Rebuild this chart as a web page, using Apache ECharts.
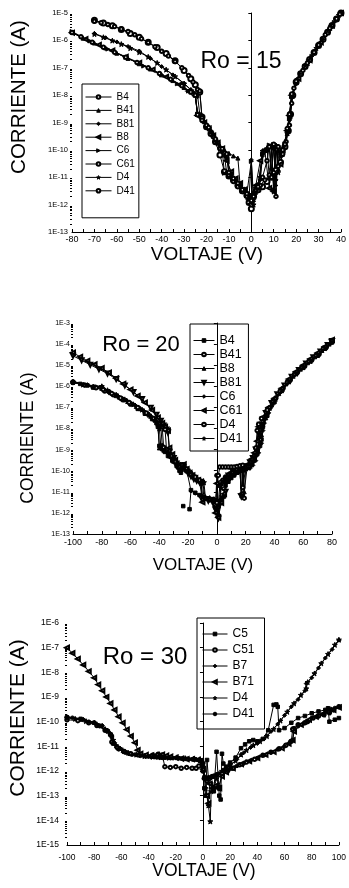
<!DOCTYPE html>
<html>
<head>
<meta charset="utf-8">
<script src="https://cdn.jsdelivr.net/npm/echarts@6/dist/echarts.min.js"></script>
<style>
html, body { margin: 0; padding: 0; background: #fff; }
#chart { width: 349px; height: 888px; }
</style>
</head>
<body>
<div id="chart"></div>
<script>
// Ro = 15  [voltage (V), current (A)]
var r15B4 = [[-70,5.4e-6],[-66,4.3e-6],[-62,3.4e-6],[-58,2.5e-6],[-54,1.8e-6],[-50,1.3e-6],[-46,8.5e-7],[-42,5.5e-7],[-38,3.3e-7],[-34,1.8e-7],[-30,8e-8],[-27,4e-8],[-25,2.4e-8],[-23,1.3e-8],[-22,1.6e-9],[-20,7e-10],[-18,4e-10],[-16,2e-10],[-14,6.5e-11],[-12,1.6e-11],[-10,1.1e-11],[-8,8e-12],[-6,5e-12],[-4,3.2e-12],[-2,2.2e-12],[-1,1.2e-12],[0,7e-13],[1,2e-12],[3,3.5e-12],[5,4.5e-12],[7,7e-12],[9,1e-11],[11,1.8e-11],[13,3.5e-11],[15,1.3e-10],[16.5,5e-10],[17.5,2e-9],[18.5,1e-8],[20,3e-8],[22,6e-8],[24,1.1e-7],[26,2e-7],[28,3.6e-7],[30,6.5e-7],[32,1.1e-6],[34,2e-6],[36,3.5e-6],[38,6e-6],[40,1e-5]];
var r15B41 = [[-80,2e-6],[-75,1.2e-6],[-70,8e-7],[-65,5.3e-7],[-60,3.4e-7],[-55,2.2e-7],[-50,1.4e-7],[-45,9e-8],[-40,5.5e-8],[-35,3.4e-8],[-30,1.9e-8],[-27,1.3e-8],[-25,1e-8],[-24,2e-9],[-22,1.3e-9],[-20,8e-10],[-18,4.5e-10],[-16,2.4e-10],[-14,1.4e-10],[-12,1e-10],[-10,7.5e-11],[-8,6e-11],[-6,5e-11],[-5,5e-12],[-3,3e-12],[-1,2.5e-12],[0,1.2e-12],[1,3e-12],[3,4e-12],[5,8e-11],[6,1e-10],[7,1.2e-10],[8,1e-11],[9,1.3e-10],[10,4e-12],[11,1.5e-10],[12,2e-11],[13,8e-11],[14,1.2e-10],[15,2e-10],[16,4e-10],[17,1.5e-9],[18,9e-9],[20,2.8e-8],[25,1.4e-7],[30,6.5e-7],[35,2.7e-6],[40,1e-5]];
var r15B81 = [[-70,1.8e-6],[-65,1.25e-6],[-60,8.8e-7],[-55,6e-7],[-50,4.1e-7],[-45,2.2e-7],[-40,1.1e-7],[-35,5.5e-8],[-30,2.7e-8],[-27,1.6e-8],[-25,1.1e-8],[-24,2.2e-9],[-22,1.4e-9],[-20,8.5e-10],[-18,5e-10],[-16,2.6e-10],[-14,1.2e-10],[-12,6e-11],[-11,1.5e-11],[-9,1e-11],[-7,7e-12],[-5,5e-12],[-3,3.5e-12],[-2,2.8e-12],[-1,2e-12],[0,4.3e-11],[1,1.5e-12],[2,2.5e-12],[4,8e-12],[5,6e-11],[7,1e-10],[8,1.4e-10],[9,2e-11],[10,1.5e-10],[11,8e-12],[12,1.2e-10],[13,6e-11],[15,1.6e-10],[17,1.2e-9],[18,8e-9],[21,4.2e-8],[26,1.9e-7],[31,8.5e-7],[36,3.5e-6],[40,1e-5]];
var r15B8 = [[-80,1.9e-6],[-74,1.1e-6],[-68,6.8e-7],[-62,4.2e-7],[-56,2.5e-7],[-50,1.5e-7],[-44,8.5e-8],[-38,4.6e-8],[-32,2.4e-8],[-28,1.4e-8],[-25,9.5e-9],[-24,1.8e-9],[-21,1e-9],[-19,6e-10],[-17,3.3e-10],[-15,1.8e-10],[-13,1.1e-10],[-11,4e-11],[-9,1.6e-11],[-7,9e-12],[-5,6e-12],[-3,3.5e-12],[-1,1.5e-12],[0,1.1e-12],[2,5e-12],[4,4e-11],[6,1e-10],[8,4e-12],[9,1.2e-10],[10,3e-12],[11,1e-10],[13,3e-11],[14,1e-10],[16,5e-10],[17,1.8e-9],[18,1e-8],[21,4e-8],[26,1.9e-7],[31,8.5e-7],[36,3.5e-6],[40,1e-5]];
var r15C6 = [[-80,2.1e-6],[-72,9.5e-7],[-64,4.8e-7],[-56,2.4e-7],[-48,1.15e-7],[-40,5.5e-8],[-33,2.6e-8],[-28,1.4e-8],[-25,1e-8],[-24,2e-9],[-20,7.5e-10],[-16,2.2e-10],[-13,1e-10],[-12,1.4e-11],[-10,1.1e-11],[-8,7.5e-12],[-6,5e-12],[-4,3.3e-12],[-2,2.6e-12],[0,3.8e-11],[1,1.3e-12],[3,5e-12],[5,7e-11],[7,9e-11],[8,1.5e-10],[10,1.2e-10],[11,5e-12],[12,1.4e-10],[14,6e-11],[15,1.5e-10],[17,1.4e-9],[18,9e-9],[22,6e-8],[27,2.6e-7],[32,1.1e-6],[37,4.5e-6]];
var r15C61 = [[-70,5e-6],[-67,4.4e-6],[-64,3.8e-6],[-61,3.2e-6],[-58,2.6e-6],[-55,2.1e-6],[-52,1.6e-6],[-49,1.15e-6],[-46,8.3e-7],[-43,5.8e-7],[-40,4e-7],[-37,2.7e-7],[-34,1.7e-7],[-31,1e-7],[-28,5.2e-8],[-26,3e-8],[-24,1.6e-8],[-23,1.4e-8],[-22,1.5e-9],[-20,8e-10],[-17,3e-10],[-14,1.1e-10],[-11,6e-11],[-10,1.2e-11],[-8,7e-12],[-6,4.5e-12],[-4,3e-12],[-2,2e-12],[0,1e-12],[2,3.5e-12],[4,5e-12],[6,8e-12],[8,1.2e-11],[10,1.5e-11],[12,2.5e-11],[14,7e-11],[15.5,2e-10],[17,8e-10],[18,5e-9],[19,1.8e-8],[23,8e-8],[28,3.7e-7],[33,1.6e-6],[38,6.2e-6]];
var r15D4 = [[-70,1.7e-6],[-66,1.3e-6],[-62,9.8e-7],[-58,7.3e-7],[-54,5.2e-7],[-50,3.7e-7],[-46,2.5e-7],[-42,1.5e-7],[-38,8.5e-8],[-34,4.8e-8],[-30,2.6e-8],[-26,1.3e-8],[-24,1e-8],[-23,2e-9],[-21,1.1e-9],[-19,6e-10],[-17,3.5e-10],[-15,1.7e-10],[-13,1e-10],[-11,5e-11],[-9,1.3e-11],[-7,8e-12],[-5,5.5e-12],[-3,3.6e-12],[-1,2.4e-12],[0,1.5e-12],[1,1e-12],[2,4e-12],[4,1e-11],[5,9e-11],[7,1.1e-10],[9,1.5e-10],[10,3e-12],[11,1.3e-10],[12,1.5e-11],[13,9e-11],[15,1.8e-10],[16,4e-10],[17,1.6e-9],[18,1e-8],[24,1.2e-7],[29,5.2e-7],[34,2.2e-6],[39,8.3e-6]];
var r15D41 = [[-80,1.95e-6],[-76,1.35e-6],[-71,8.5e-7],[-66,5.6e-7],[-61,3.7e-7],[-56,2.4e-7],[-51,1.55e-7],[-46,1e-7],[-41,6.2e-8],[-36,3.8e-8],[-31,2.2e-8],[-27,1.3e-8],[-25,1e-8],[-24,1.9e-9],[-22,1.2e-9],[-19,6.5e-10],[-16,2.5e-10],[-13,1.1e-10],[-11,7e-11],[-10,1.5e-11],[-8,9e-12],[-6,6e-12],[-4,3.5e-12],[-2,2.5e-12],[0,1.4e-12],[1,2e-12],[3,4.5e-12],[5,1e-11],[7,4e-11],[8,1.3e-10],[9,1e-11],[10,1.6e-10],[11,2e-12],[12,1.3e-10],[14,1e-10],[15,1.6e-10],[16,6e-10],[17,2e-9],[18,1.1e-8],[20,3.2e-8],[25,1.5e-7],[30,6.8e-7],[35,2.8e-6],[39.5,9e-6]];

// Ro = 20
var r20B4 = [[-100,1.6e-6],[-95,1.3e-6],[-90,1.1e-6],[-85,9.5e-7],[-80,9e-7],[-75,5.5e-7],[-70,3.5e-7],[-65,2.2e-7],[-60,1.4e-7],[-55,8.5e-8],[-50,5e-8],[-45,2.8e-8],[-42,1.8e-8],[-41,1.2e-8],[-40,1.5e-9],[-37,9e-10],[-34,5e-10],[-31,3e-10],[-28,1.7e-10],[-26,1e-10],[-25,8e-11],[-24,null],[-23.4,2.1e-12],[-21,null],[-19,1.5e-12],[-18,1.2e-11],[-15,9e-12],[-12,7e-12],[-9,5.5e-12],[-6,4.8e-12],[-3,4.5e-12],[-1,2e-12],[0,1.2e-12],[1,3e-12],[3,4e-12],[5,6e-12],[6,2e-11],[8,3e-11],[10,4.5e-11],[12,6e-11],[14,8e-11],[16,1e-10],[18,1.1e-10],[20,1.2e-10],[22,1.4e-10],[24,2e-10],[26,3.5e-10],[28,6e-10],[30,1.5e-9],[31,3e-9],[32,1.2e-8],[35,4e-8],[40,1.8e-7],[45,6e-7],[50,1.6e-6],[55,3.8e-6],[60,7.5e-6],[65,1.5e-5],[70,2.8e-5],[75,6e-5],[80,1.2e-4]];
var r20B41 = [[-100,1.5e-6],[-92,1.15e-6],[-84,8.5e-7],[-78,6e-7],[-72,4e-7],[-66,2.5e-7],[-60,1.5e-7],[-54,8.8e-8],[-48,4.8e-8],[-44,2.8e-8],[-41,1.7e-8],[-38,1.2e-8],[-37,1.3e-9],[-35,9e-10],[-32,4.5e-10],[-29,2.5e-10],[-27,1.5e-10],[-24,1.7e-10],[-21,1e-10],[-18,6.5e-11],[-15,4.5e-11],[-12,3.2e-11],[-10,2.7e-11],[-9,5e-12],[-6,4.5e-12],[-3,4e-12],[-1,1.8e-12],[0,6e-11],[1,2e-12],[2,2e-11],[4,3.5e-11],[6,5e-11],[9,7e-11],[12,9e-11],[15,1.2e-10],[17,1.5e-10],[18,1.6e-11],[20,1.3e-10],[22,1.5e-10],[24,2.2e-10],[26,4e-10],[28,9e-10],[30,3e-9],[31,1.4e-8],[33,3e-8],[37,1e-7],[41,2.8e-7],[46,8e-7],[51,2e-6],[56,4.6e-6],[61,9e-6],[66,1.8e-5],[71,3.3e-5],[76,7e-5],[80,1.3e-4]];
var r20B8 = [[-100,1.7e-6],[-90,1.2e-6],[-80,8e-7],[-74,5e-7],[-68,3.1e-7],[-62,1.9e-7],[-56,1.1e-7],[-50,6e-8],[-46,3.8e-8],[-43,2.5e-8],[-41,1.6e-8],[-40,1.2e-9],[-38,1.1e-9],[-36,8e-10],[-33,5e-10],[-30,2.8e-10],[-27,1.5e-10],[-25,1.1e-10],[-22,1.4e-10],[-19,9e-11],[-16,5.5e-11],[-13,3.8e-11],[-11,3e-11],[-10,6e-12],[-7,5e-12],[-4,4.2e-12],[-2,3.8e-12],[0,1.5e-12],[1,1e-12],[3,2.5e-11],[5,4e-11],[8,6e-11],[11,8.5e-11],[14,1.1e-10],[16,1.3e-10],[18,1.4e-10],[19,1e-11],[21,1.4e-10],[23,1.8e-10],[25,3e-10],[27,6e-10],[29,1.5e-9],[31,5e-9],[32,1.5e-8],[34,3.2e-8],[38,1.3e-7],[43,4.5e-7],[48,1.3e-6],[53,3e-6],[58,6.5e-6],[63,1.3e-5],[68,2.5e-5],[73,5e-5],[78,1e-4]];
var r20B81 = [[-100,2.8e-5],[-94,1.7e-5],[-88,1.05e-5],[-82,6.5e-6],[-76,4e-6],[-70,2.2e-6],[-64,1.1e-6],[-58,5.4e-7],[-52,2.5e-7],[-46,9.5e-8],[-42,4.5e-8],[-39,2.3e-8],[-37,1.4e-8],[-35,9e-9],[-34,6.5e-9],[-33,8e-10],[-30,4e-10],[-28,2.2e-10],[-26,1.4e-10],[-24,1.8e-10],[-22,1.1e-10],[-20,7.5e-11],[-18,5.5e-11],[-16,4e-11],[-14,3.3e-11],[-12,2.8e-11],[-11,2.5e-11],[-10,4e-12],[-6,3.8e-12],[-3,3.3e-12],[-1,1.5e-12],[1,5.5e-13],[2,2.5e-12],[4,5e-12],[6,1e-11],[8,6e-11],[11,9e-11],[14,1.2e-10],[16,1.4e-10],[17,6e-12],[19,1.2e-10],[21,1.6e-10],[23,2.5e-10],[25,4e-10],[27,1e-9],[29,6e-9],[30,1.5e-8],[34,5.5e-8],[38,1.6e-7],[42,4.2e-7],[47,1.1e-6],[52,2.8e-6],[57,6e-6],[62,1.2e-5],[67,2.4e-5],[72,4.5e-5],[77,9e-5],[80,1.4e-4]];
var r20C6 = [[-100,1.6e-6],[-90,1.15e-6],[-80,1e-6],[-75,6e-7],[-69,3.6e-7],[-63,2.2e-7],[-57,1.3e-7],[-51,7e-8],[-46,4e-8],[-42,2.2e-8],[-39,1.4e-8],[-38,1.6e-9],[-35,1e-9],[-32,5.5e-10],[-29,3e-10],[-26,1.6e-10],[-24,1.5e-10],[-21,1.1e-10],[-18,1.1e-11],[-15,8.5e-12],[-12,6.5e-12],[-9,5.5e-12],[-6,5e-12],[-3,4.5e-12],[-1,3e-12],[0,2e-12],[1,2.5e-12],[2,4e-12],[4,5.5e-12],[5,7e-12],[6,2.5e-11],[9,4e-11],[12,6e-11],[15,8e-11],[18,1e-10],[21,1.2e-10],[23,1.3e-10],[25,1.8e-10],[27,3e-10],[29,7e-10],[31,2e-9],[32,8e-9],[33,1.8e-8],[36,5.5e-8],[39,1.4e-7],[44,5e-7],[49,1.4e-6],[54,3.4e-6],[59,7e-6],[64,1.4e-5],[69,2.6e-5],[74,5.5e-5],[79,1.1e-4]];
var r20C61 = [[-100,3.9e-5],[-95,2.5e-5],[-90,1.6e-5],[-85,1.1e-5],[-80,7.2e-6],[-75,4.4e-6],[-70,2.4e-6],[-65,1.3e-6],[-60,7e-7],[-55,3.5e-7],[-50,1.7e-7],[-45,7.5e-8],[-41,3.3e-8],[-38,1.8e-8],[-36,1.2e-8],[-34,8e-9],[-33,1.2e-9],[-31,6e-10],[-29,3.2e-10],[-27,1.8e-10],[-25,1.3e-10],[-23,2e-10],[-21,1.2e-10],[-19,8e-11],[-17,6e-11],[-15,4.5e-11],[-13,3.6e-11],[-11,3e-11],[-10,3.2e-12],[-7,4.5e-12],[-4,4e-12],[-2,3.5e-12],[-1,1e-12],[0,2.5e-11],[1,6e-13],[3,3e-12],[5,8e-12],[7,5e-11],[10,8e-11],[13,1.1e-10],[16,1.3e-10],[17,8e-12],[18,1.5e-10],[20,1.8e-10],[22,2e-10],[24,3.5e-10],[26,7e-10],[28,2.5e-9],[29,1.2e-8],[32,3.5e-8],[36,1e-7],[40,2.7e-7],[45,8e-7],[50,2.2e-6],[55,5e-6],[60,1e-5],[65,2e-5],[70,3.8e-5],[75,7.5e-5],[80,1.6e-4]];
var r20D4 = [[-100,1.55e-6],[-86,9e-7],[-79,7e-7],[-73,4.5e-7],[-67,2.8e-7],[-61,1.7e-7],[-55,1e-7],[-49,5.5e-8],[-44,3e-8],[-40,1.8e-8],[-36,9e-9],[-35,1e-9],[-32,5e-10],[-29,2.7e-10],[-26,1.5e-10],[-24,1.9e-10],[-21,1.2e-10],[-18,7e-11],[-15,5e-11],[-12,3.5e-11],[-10,3e-11],[-8,5e-12],[-5,4.5e-12],[-2,4e-12],[-1,2.5e-12],[0,3e-12],[1,6e-11],[2,1.5e-10],[4,1.5e-10],[6,1.5e-10],[8,1.5e-10],[10,1.5e-10],[12,1.5e-10],[14,1.6e-10],[16,1.7e-10],[18,1.8e-10],[19,5e-12],[20,1.5e-10],[22,1.6e-10],[24,2.5e-10],[26,5e-10],[27,1.2e-9],[28,8e-9],[29,1.6e-8],[31,3e-8],[35,7.5e-8],[39,2e-7],[44,6e-7],[49,1.6e-6],[54,3.8e-6],[59,8e-6],[64,1.6e-5],[69,3e-5],[74,6.3e-5],[80,1.5e-4]];
var r20D41 = [[-100,1.6e-6],[-93,1.2e-6],[-86,9.5e-7],[-80,1e-6],[-76,6.5e-7],[-70,4e-7],[-64,2.4e-7],[-58,1.4e-7],[-52,7.8e-8],[-47,4.4e-8],[-43,2.6e-8],[-41,1.8e-8],[-40,1e-8],[-39,1.6e-9],[-36,1e-9],[-33,6e-10],[-30,3.5e-10],[-27,1.8e-10],[-25,1.2e-10],[-23,1.8e-10],[-20,1.1e-10],[-17,7e-11],[-14,4e-11],[-11,3e-11],[-9,2.8e-11],[-8,5.5e-12],[-5,5e-12],[-2,4.4e-12],[0,1.5e-12],[1,8e-13],[3,1.5e-11],[5,3e-11],[7,4.5e-11],[10,6.5e-11],[13,9e-11],[16,1.1e-10],[17,7e-12],[18,1.2e-10],[20,1.3e-10],[22,1.4e-10],[24,2.2e-10],[26,4.5e-10],[28,1e-9],[30,4e-9],[32,1.6e-8],[35,5e-8],[40,2e-7],[45,6.5e-7],[50,1.7e-6],[55,4e-6],[60,8e-6],[65,1.6e-5],[70,3e-5],[75,6.5e-5],[80,1.4e-4]];

// Ro = 30
var r30C5 = [[-100,1.5e-10],[-90,1.3e-10],[-80,9e-11],[-75,6.8e-11],[-70,4e-11],[-67,2.5e-11],[-66,1.3e-11],[-62,8e-12],[-58,6e-12],[-54,5e-12],[-48,4.5e-12],[-42,4e-12],[-36,3.8e-12],[-30,3.5e-12],[-24,3.4e-12],[-18,3.3e-12],[-12,3.1e-12],[-6,3e-12],[-2,2.6e-12],[0,2e-12],[1,2e-13],[2,1e-13],[3,2.8e-12],[4,5e-13],[6,3e-13],[8,1.5e-13],[10,6e-12],[12,1e-13],[13,7e-14],[14,5e-12],[15,2e-12],[17,1.5e-12],[20,2.2e-12],[24,3.5e-12],[28,8.4e-12],[31,1.2e-11],[34,1.6e-11],[37,1.8e-11],[40,1.6e-11],[44,2e-11],[48,4.5e-11],[52,4.8e-10],[54,5e-10],[55,4e-10],[56,4.5e-11],[60,5.5e-11],[65,9e-11],[70,1.4e-10],[75,1.7e-10],[80,2.2e-10],[85,2.6e-10],[90,3e-10],[92,3.5e-10],[93,1e-10],[97,1.2e-10],[100,1.4e-10]];
var r30C51 = [[-100,1.2e-10],[-92,1.1e-10],[-84,9e-11],[-78,7e-11],[-72,4.5e-11],[-68,3e-11],[-67,1.5e-11],[-63,9e-12],[-58,6.2e-12],[-53,5e-12],[-47,4.5e-12],[-42,4.2e-12],[-37,4.4e-12],[-33,4.8e-12],[-30,4.5e-12],[-28,1.5e-12],[-24,1.4e-12],[-20,1.5e-12],[-16,1.3e-12],[-12,1.4e-12],[-8,1.3e-12],[-5,1.3e-12],[-3,1.6e-12],[-1,2.4e-12],[0,1e-12],[1,5e-13],[3,4e-13],[5,5e-13],[7,6e-13],[10,7e-13],[14,8e-13],[18,1e-12],[22,1.3e-12],[27,1.8e-12],[32,2.3e-12],[38,3e-12],[44,4.3e-12],[50,5.8e-12],[56,8e-12],[61,1.1e-11],[65,1.6e-11],[66,5e-11],[70,7.5e-11],[75,9e-11],[77,1e-10],[81,1.4e-10],[85,1.7e-10],[89,1.9e-10],[93,2.3e-10],[96,3e-10],[100,4e-10]];
var r30B7 = [[-100,1.6e-10],[-88,1.25e-10],[-80,9.5e-11],[-74,7e-11],[-70,4.5e-11],[-67,2.6e-11],[-65,1.4e-11],[-61,8.5e-12],[-56,5.8e-12],[-50,4.7e-12],[-44,4.2e-12],[-38,3.6e-12],[-32,3.4e-12],[-26,3.3e-12],[-20,3.4e-12],[-14,3.2e-12],[-8,3e-12],[-3,2.8e-12],[-1,2.3e-12],[0,1e-12],[2,5e-13],[4,5.5e-13],[6,6e-13],[8,6.5e-13],[10,7e-13],[15,1e-12],[20,1.6e-12],[25,3e-12],[30,5.5e-12],[35,9e-12],[40,1.3e-11],[45,2e-11],[50,4e-11],[55,8e-11],[60,1.8e-10],[65,4e-10],[70,8e-10],[75,1.8e-9],[76,3.5e-9],[80,6e-9],[85,1.5e-8],[90,3.8e-8],[95,8.5e-8],[100,2e-7]];
var r30B71 = [[-100,1e-7],[-96,6e-8],[-92,3.5e-8],[-88,2e-8],[-84,1.1e-8],[-80,6e-9],[-77,3.2e-9],[-74,1.8e-9],[-71,1e-9],[-68,5.5e-10],[-65,3e-10],[-62,1.6e-10],[-59,9e-11],[-56,4.8e-11],[-53,2.6e-11],[-50,1.4e-11],[-48,7e-12],[-46,5e-12],[-42,4.5e-12],[-38,4.3e-12],[-34,4.5e-12],[-30,4.6e-12],[-27,4.2e-12],[-24,3.8e-12],[-20,3.5e-12],[-16,3.2e-12],[-12,3e-12],[-8,3e-12],[-4,2.8e-12],[-2,2.5e-12],[0,1.2e-12],[2,5e-13],[3,1e-13],[4,4.9e-14],[5,3e-13],[7,2e-13],[9,2.5e-13],[11,2e-13],[12,2e-13],[14,6e-13],[17,9e-13],[22,1.3e-12],[28,1.9e-12],[34,2.5e-12],[40,3.4e-12],[46,4.6e-12],[52,6e-12],[58,8.5e-12],[63,1.3e-11],[66,1.8e-11],[67,4e-11],[72,7.5e-11],[78,1.2e-10],[83,1.6e-10],[88,2e-10],[92,2.5e-10],[96,3e-10],[100,3.8e-10]];
var r30D4 = [[-100,1.4e-10],[-94,1.3e-10],[-86,1.05e-10],[-78,7.8e-11],[-72,5e-11],[-68,3.2e-11],[-66,1.8e-11],[-64,1.1e-11],[-59,7e-12],[-55,5.5e-12],[-49,4.6e-12],[-43,4e-12],[-37,3.8e-12],[-31,3.6e-12],[-25,3.5e-12],[-19,3.6e-12],[-13,3.3e-12],[-7,3.1e-12],[-2,3e-12],[0,2e-12],[2,2e-13],[4,4e-14],[5.4,9e-15],[6,1.5e-13],[8,2e-13],[10,5e-13],[12,2e-13],[14,1e-12],[16,1.2e-12],[20,1.8e-12],[24,2.6e-12],[28,4.6e-12],[32,7e-12],[37,1.1e-11],[42,1.6e-11],[47,2.6e-11],[52,5e-11],[57,1.1e-10],[62,2.5e-10],[67,5.5e-10],[72,1.2e-9],[76,2.2e-9],[77,4e-9],[82,9e-9],[87,2.3e-8],[92,5.5e-8],[97,1.3e-7],[100,2.1e-7]];
var r30D41 = [[-100,1.5e-10],[-96,1.45e-10],[-90,1.25e-10],[-84,1e-10],[-76,6.5e-11],[-71,4.3e-11],[-68,2.8e-11],[-66,1.3e-11],[-62,7.5e-12],[-57,5.5e-12],[-52,4.6e-12],[-46,4.1e-12],[-40,3.8e-12],[-34,3.5e-12],[-28,3.4e-12],[-22,3.3e-12],[-16,3.2e-12],[-10,3e-12],[-5,2.9e-12],[-1,2.6e-12],[0,1.5e-12],[1,6e-13],[3,5e-13],[5,5.5e-13],[8,6e-13],[12,8e-13],[16,9.5e-13],[20,1.2e-12],[25,1.6e-12],[30,2e-12],[35,2.6e-12],[40,3.3e-12],[45,4.4e-12],[50,5.6e-12],[55,7.5e-12],[60,1e-11],[64,1.5e-11],[66,1.8e-11],[67,5.5e-11],[70,6.5e-11],[74,8.5e-11],[77,1e-10],[80,1.4e-10],[84,1.6e-10],[88,2e-10],[91,2.6e-10],[94,3.3e-10],[97,3.6e-10],[100,4e-10]];

var FONT = '"Liberation Sans", Arial, sans-serif'
var STAR = 'path://M12,1 L14.9,8.6 L23,9 L16.7,14.1 L18.8,22 L12,17.5 L5.2,22 L7.3,14.1 L1,9 L9.1,8.6 Z'

var SYM = {
  oBig: { symbol: 'emptyCircle', symbolSize: 5 },
  o: { symbol: 'emptyCircle', symbolSize: 3.5 },
  tri: { symbol: 'triangle', symbolSize: 4 },
  triDown: { symbol: 'emptyTriangle', symbolSize: 4, symbolRotate: 180 },
  triLeft: { symbol: 'emptyTriangle', symbolSize: 4, symbolRotate: 90 },
  triRight: { symbol: 'triangle', symbolSize: 4, symbolRotate: -90 },
  dia: { symbol: 'diamond', symbolSize: 4 },
  sq: { symbol: 'rect', symbolSize: 3.5 },
  dot: { symbol: 'circle', symbolSize: 3.5 },
  star: { symbol: STAR, symbolSize: 5 }
}

var panels = [
  [['B4', r15B4, 'oBig'], ['B41', r15B41, 'tri'], ['B81', r15B81, 'dia'], ['B8', r15B8, 'triLeft'],
    ['C6', r15C6, 'triRight'], ['C61', r15C61, 'o'], ['D4', r15D4, 'star'], ['D41', r15D41, 'o']],
  [['B4', r20B4, 'sq'], ['B41', r20B41, 'o'], ['B8', r20B8, 'tri'], ['B81', r20B81, 'triDown'],
    ['C6', r20C6, 'dia'], ['C61', r20C61, 'triLeft'], ['D4', r20D4, 'o'], ['D41', r20D41, 'star']],
  [['C5', r30C5, 'sq'], ['C51', r30C51, 'o'], ['B7', r30B7, 'dia'], ['B71', r30B71, 'triLeft'],
    ['D4', r30D4, 'star'], ['D41', r30D41, 'dot']]
]
var roLabels = ['Ro = 15', 'Ro = 20', 'Ro = 30']
// decade ranges of the current axes (exponents)
var decades = [[-13, -5], [-13, -3], [-15, -6]]

var series = []
var legendNames = [[], [], []]
panels.forEach(function(list, idx) {
  list.forEach(function(item) {
    var name = item[0] + '|' + idx
    legendNames[idx].push(name)
    series.push(Object.assign({
      name: name,
      type: 'line',
      xAxisIndex: idx,
      yAxisIndex: idx,
      data: item[1],
      lineStyle: { color: '#000', width: 1 },
      itemStyle: { color: '#000', borderColor: '#000', borderWidth: 1 },
      animation: false
    }, SYM[item[2]]))
  })
})

function logLabel(v) {
  return '1E' + Math.round(Math.log10(v))
}

// 2..9 x 10^n marks between the decades
function minorValues(range) {
  var out = []
  for (var e = range[0]; e < range[1]; e++) {
    for (var m = 2; m <= 9; m++) out.push(m * Math.pow(10, e))
  }
  return out
}

function xAx(idx, min, max, step, size, margin) {
  return {
    type: 'value', gridIndex: idx, min: min, max: max, interval: step,
    axisLine: { lineStyle: { color: '#000', width: 1 } },
    axisTick: { inside: true, length: 3, lineStyle: { color: '#000' } },
    minorTick: { show: true, splitNumber: 2, length: 3, lineStyle: { color: '#000' } },
    axisLabel: { color: '#000', fontSize: size, margin: margin, fontFamily: FONT },
    splitLine: { show: false }
  }
}

function yAx(idx, size, margin) {
  return {
    type: 'log', logBase: 10, gridIndex: idx, position: 'left',
    min: Math.pow(10, decades[idx][0]), max: Math.pow(10, decades[idx][1]), interval: 1,
    axisLine: { show: true, lineStyle: { color: '#000', width: 1 } },
    axisTick: { show: true, length: 3, lineStyle: { color: '#000' } },
    axisLabel: { color: '#000', fontSize: size, margin: margin, fontFamily: FONT, formatter: logLabel },
    splitLine: { show: false }
  }
}

function yMinor(idx) {
  return {
    type: 'log', logBase: 10, gridIndex: idx, position: 'left', offset: 0,
    min: Math.pow(10, decades[idx][0]), max: Math.pow(10, decades[idx][1]),
    axisLine: { show: false },
    axisTick: { show: true, length: 2, customValues: minorValues(decades[idx]), lineStyle: { color: '#000' } },
    axisLabel: { show: false },
    splitLine: { show: false }
  }
}

function legend(idx, left, top, pad, iw, gap, size) {
  return {
    orient: 'vertical', left: left, top: top, padding: pad,
    data: legendNames[idx],
    formatter: function(n) { return n.split('|')[0] },
    borderColor: '#000', borderWidth: 1,
    itemWidth: iw, itemHeight: 4.5, itemGap: gap,
    itemStyle: { borderWidth: 1 },
    lineStyle: { width: 1 },
    textStyle: { color: '#000', fontSize: size, fontFamily: FONT }
  }
}

function txt(x, y, s, size, rot) {
  return {
    type: 'text', x: x, y: y, rotation: rot || 0,
    style: { text: s, fill: '#000', font: size + 'px ' + FONT, textAlign: 'center', textVerticalAlign: 'middle' }
  }
}

var chart = echarts.init(document.getElementById('chart'))
chart.setOption({
  backgroundColor: '#fff',
  animation: false,
  grid: [
    { left: 72, top: 13, width: 271, height: 219 },
    { left: 73, top: 323, width: 259, height: 211 },
    { left: 67, top: 623, width: 275, height: 222 }
  ],
  xAxis: [
    xAx(0, -80, 40, 10, 9, 3),
    xAx(1, -100, 80, 20, 9, 4),
    xAx(2, -100, 100, 20, 8.5, 8)
  ],
  yAxis: [
    yAx(0, 7.5, 4),
    yAx(1, 7, 3),
    yAx(2, 8.5, 8),
    yMinor(0),
    yMinor(1),
    yMinor(2)
  ],
  legend: [
    legend(0, 82, 84, [8, 4, 22, 3], 26, 3.4, 10),
    legend(1, 190, 324, [10, 6, 6, 3], 21, 1, 12.5),
    legend(2, 197, 618, [10, 10, 9, 5], 25, 4, 12)
  ],
  graphic: [
    txt(241, 62, roLabels[0], 23),
    txt(141, 345, roLabels[1], 22),
    txt(145, 657, roLabels[2], 24),
    txt(207, 255, 'VOLTAJE (V)', 19),
    txt(203, 565, 'VOLTAJE (V)', 17),
    txt(204, 871, 'VOLTAJE (V)', 17.5),
    txt(19, 97, 'CORRIENTE (A)', 20.5, Math.PI / 2),
    txt(28, 438, 'CORRIENTE (A)', 17.5, Math.PI / 2),
    txt(18, 718, 'CORRIENTE (A)', 21, Math.PI / 2)
  ],
  series: series
})
</script>
</body>
</html>
